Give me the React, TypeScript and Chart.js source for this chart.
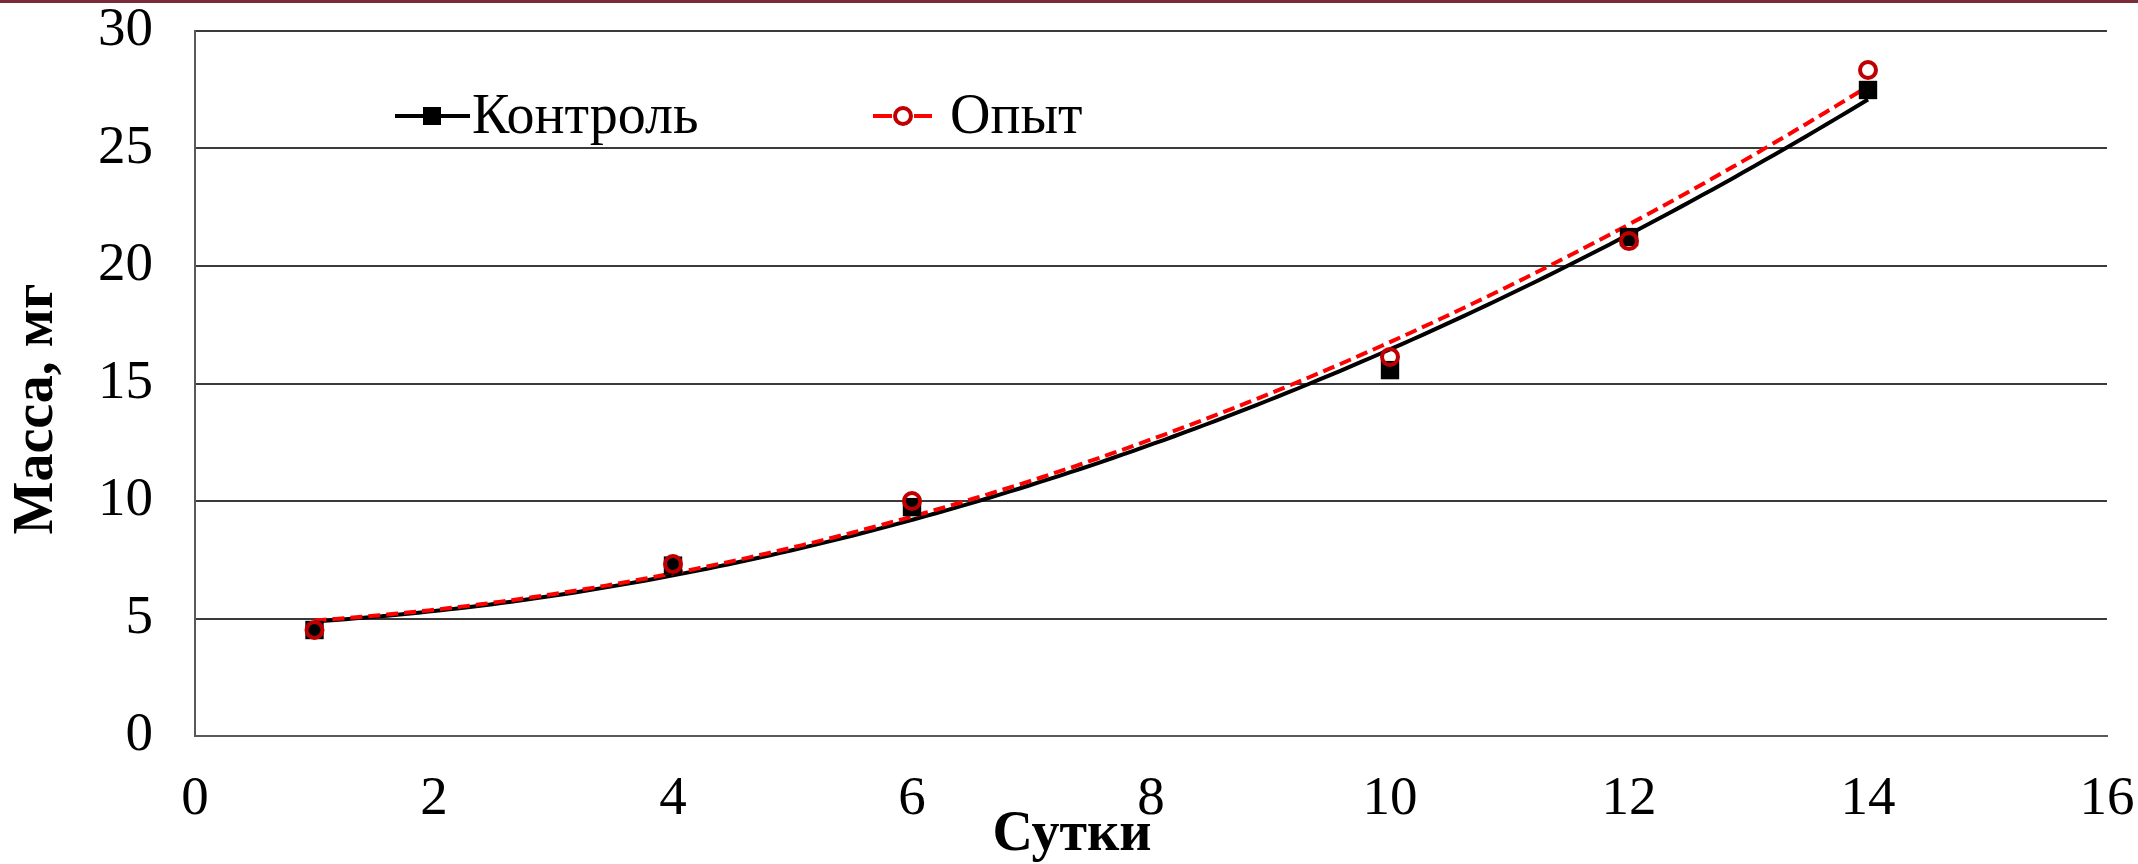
import { useEffect, useRef } from "react";
import { Chart, registerables } from "chart.js";

Chart.register(...registerables);

// ---- data ----
const days = [1, 4, 6, 10, 12, 14];
const controlMass = [4.51, 7.25, 9.74, 15.57, 21.23, 27.49];
const experimentMass = [4.51, 7.32, 10.0, 16.13, 21.06, 28.34];
const seriesNames = ["Контроль", "Опыт"];
const xAxisTitle = "Сутки";
const yAxisTitle = "Масса, мг";
const xLimits = [0, 16];
const xStep = 2;
const yLimits = [0, 30];
const yStep = 5;

const FONT = "'Liberation Serif', 'Times New Roman', serif";
const W = 2138;
const H = 864;

// least-squares 2nd order polynomial trendline (like Excel's "Polynomial, order 2")
function polyfit2(xs: number[], ys: number[]): number[] {
  const s = [0, 0, 0, 0, 0];
  const t = [0, 0, 0];
  for (let i = 0; i < xs.length; i++) {
    let p = 1;
    for (let k = 0; k < 5; k++) {
      s[k] += p;
      if (k < 3) t[k] += p * ys[i];
      p *= xs[i];
    }
  }
  const m = [
    [s[0], s[1], s[2], t[0]],
    [s[1], s[2], s[3], t[1]],
    [s[2], s[3], s[4], t[2]],
  ];
  for (let c = 0; c < 3; c++) {
    for (let r = c + 1; r < 3; r++) {
      const f = m[r][c] / m[c][c];
      for (let k = c; k < 4; k++) m[r][k] -= f * m[c][k];
    }
  }
  const res = [0, 0, 0];
  for (let r = 2; r >= 0; r--) {
    let v = m[r][3];
    for (let k = r + 1; k < 3; k++) v -= m[r][k] * res[k];
    res[r] = v / m[r][r];
  }
  return res;
}

function trend(xs: number[], ys: number[]) {
  const [a, b, c] = polyfit2(xs, ys);
  const lo = Math.min(...xs);
  const hi = Math.max(...xs);
  const n = 150;
  const pts: { x: number; y: number }[] = [];
  for (let i = 0; i <= n; i++) {
    const x = lo + ((hi - lo) * i) / n;
    pts.push({ x, y: a + b * x + c * x * x });
  }
  return pts;
}

const extrasPlugin = {
  id: "extras",
  afterDraw(chart: any) {
    const ctx = chart.ctx as CanvasRenderingContext2D;
    ctx.save();
    // top border band
    ctx.fillStyle = "#7a2d36";
    ctx.fillRect(0, 0, W, 3);

    // axis titles
    ctx.fillStyle = "#000";
    ctx.font = `bold 56px ${FONT}`;
    ctx.textAlign = "center";
    ctx.textBaseline = "middle";
    ctx.fillText(xAxisTitle, 1072, 836);
    ctx.save();
    ctx.translate(38, 409);
    ctx.rotate(-Math.PI / 2);
    ctx.fillText(yAxisTitle, 0, 0);
    ctx.restore();

    // legend
    const ly = 116;
    ctx.lineCap = "butt";
    // Контроль
    ctx.strokeStyle = "#000";
    ctx.lineWidth = 4;
    ctx.setLineDash([]);
    ctx.beginPath();
    ctx.moveTo(395, ly);
    ctx.lineTo(470, ly);
    ctx.stroke();
    ctx.fillStyle = "#000";
    ctx.fillRect(432 - 9, ly - 9, 18, 18);
    ctx.font = `56px ${FONT}`;
    ctx.textAlign = "left";
    ctx.textBaseline = "middle";
    ctx.fillText(seriesNames[0], 472, ly + 2);
    // Опыт
    ctx.strokeStyle = "#ff0000";
    ctx.lineWidth = 4;
    ctx.beginPath();
    ctx.moveTo(873, ly);
    ctx.lineTo(892, ly);
    ctx.moveTo(914, ly);
    ctx.lineTo(932, ly);
    ctx.stroke();
    ctx.strokeStyle = "#c00000";
    ctx.beginPath();
    ctx.arc(903, ly, 8, 0, Math.PI * 2);
    ctx.stroke();
    ctx.fillStyle = "#000";
    ctx.fillText(seriesNames[1], 950, ly + 2);
    ctx.restore();
  },
};

export default function App() {
  const ref = useRef<HTMLCanvasElement | null>(null);

  useEffect(() => {
    if (!ref.current) return;
    const chart = new Chart(ref.current, {
      type: "scatter",
      data: {
        datasets: [
          {
            label: seriesNames[1],
            data: days.map((d, i) => ({ x: d, y: experimentMass[i] })),
            showLine: false,
            pointStyle: "circle",
            pointRadius: 8,
            pointBorderWidth: 4,
            pointBorderColor: "#c00000",
            pointBackgroundColor: "rgba(0,0,0,0)",
            order: 0,
          },
          {
            label: seriesNames[0],
            data: days.map((d, i) => ({ x: d, y: controlMass[i] })),
            showLine: false,
            pointStyle: "rect",
            pointRadius: 13,
            pointBorderWidth: 0,
            pointBorderColor: "#000",
            pointBackgroundColor: "#000",
            order: 1,
          },
          {
            label: seriesNames[1] + " (тренд)",
            data: trend(days, experimentMass),
            showLine: true,
            borderColor: "#ff0000",
            borderWidth: 4,
            borderDash: [12, 6],
            pointRadius: 0,
            order: 2,
          },
          {
            label: seriesNames[0] + " (тренд)",
            data: trend(days, controlMass),
            showLine: true,
            borderColor: "#000",
            borderWidth: 4,
            pointRadius: 0,
            order: 3,
          },
        ],
      },
      options: {
        animation: false,
        responsive: false,
        devicePixelRatio: 1,
        layout: { padding: { left: 0, right: 31, top: 31, bottom: 0 } },
        plugins: {
          legend: { display: false },
          tooltip: { enabled: false },
        },
        scales: {
          x: {
            type: "linear",
            min: xLimits[0],
            max: xLimits[1],
            afterFit: (s: any) => {
              s.height = 128;
              s.paddingLeft = 0;
              s.paddingRight = 0;
            },
            ticks: {
              stepSize: xStep,
              padding: 36,
              color: "#000",
              font: { family: FONT, size: 55, lineHeight: 1 },
            },
            grid: { display: false, drawTicks: false },
            border: { display: true, color: "#595959", width: 2 },
          },
          y: {
            type: "linear",
            min: yLimits[0],
            max: yLimits[1],
            afterFit: (s: any) => {
              s.width = 195;
              s.paddingTop = 0;
              s.paddingBottom = 0;
            },
            ticks: {
              stepSize: yStep,
              padding: 42,
              color: "#000",
              font: { family: FONT, size: 55, lineHeight: 1 },
            },
            grid: { color: "#3a3a3a", lineWidth: 2, drawTicks: false },
            border: { display: true, color: "#595959", width: 2 },
          },
        },
      },
      plugins: [extrasPlugin],
    });
    return () => chart.destroy();
  }, []);

  return (
    <div style={{ position: "absolute", left: 0, top: 0, width: W, height: H, background: "#fff" }}>
      <canvas ref={ref} width={W} height={H} style={{ display: "block" }} />
    </div>
  );
}
